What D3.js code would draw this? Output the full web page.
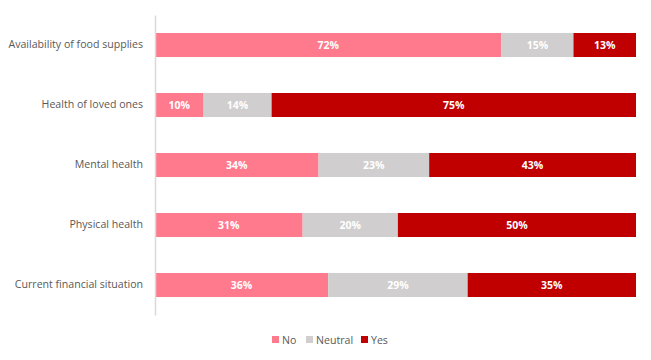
<!DOCTYPE html>
<html><head><meta charset="utf-8">
<script src="https://cdn.jsdelivr.net/npm/d3@7"></script>
<style>body{margin:0;background:#fff}text{font-family:"Open Sans","Noto Sans",sans-serif}</style>
</head><body><svg id="c" width="651" height="360"></svg>
<script>
const categories = ["Availability of food supplies","Health of loved ones","Mental health","Physical health","Current financial situation"];
const seriesNames = ["No","Neutral","Yes"];
const noVals = [72,10,34,31,36];
const neutralVals = [15,14,23,20,29];
const yesVals = [13,75,43,50,35];
const colors = ["#FF7A8D","#D0CECE","#C00000"];

const svg = d3.select("#c");
const x = d3.scaleLinear().domain([0,1]).range([155,636]);
const y = d3.scaleBand().domain(categories).range([15,315]).paddingInner(0.6).paddingOuter(0.3);

const rows = categories.map((c,i)=>({cat:c, No:noVals[i], Neutral:neutralVals[i], Yes:yesVals[i]}));
const stack = d3.stack().keys(seriesNames).offset(d3.stackOffsetExpand)(rows);

stack.forEach((s,si)=>{
  const g = svg.append("g");
  g.selectAll("rect").data(s).join("rect")
    .attr("x",d=>x(d[0])).attr("width",d=>x(d[1])-x(d[0]))
    .attr("y",d=>y(d.data.cat)).attr("height",y.bandwidth())
    .attr("fill",colors[si]);
  g.selectAll("text").data(s).join("text")
    .attr("x",d=>(x(d[0])+x(d[1]))/2).attr("y",d=>y(d.data.cat)+y.bandwidth()/2)
    .attr("dy","0.35em").attr("text-anchor","middle")
    .attr("fill","#fff").attr("font-size",10.5).attr("font-weight","bold")
    .text(d=>d.data[s.key]+"%");
});

const ax = svg.append("g").attr("transform","translate(155,0)").call(d3.axisLeft(y).tickSize(0).tickPadding(12));
ax.select(".domain").attr("stroke","#D9D9D9").attr("stroke-width",1.5);
ax.selectAll("text").attr("fill","#595959").attr("font-size",10.6);

const legend = svg.append("g").attr("transform","translate(272,340)");
const lx = [0,34,89];
seriesNames.forEach((n,i)=>{
  legend.append("rect").attr("x",lx[i]).attr("y",-4).attr("width",7).attr("height",7).attr("fill",colors[i]);
  legend.append("text").attr("x",lx[i]+10).attr("y",0).attr("dy","0.35em")
    .attr("fill","#595959").attr("font-size",10.6).text(n);
});
</script></body></html>
